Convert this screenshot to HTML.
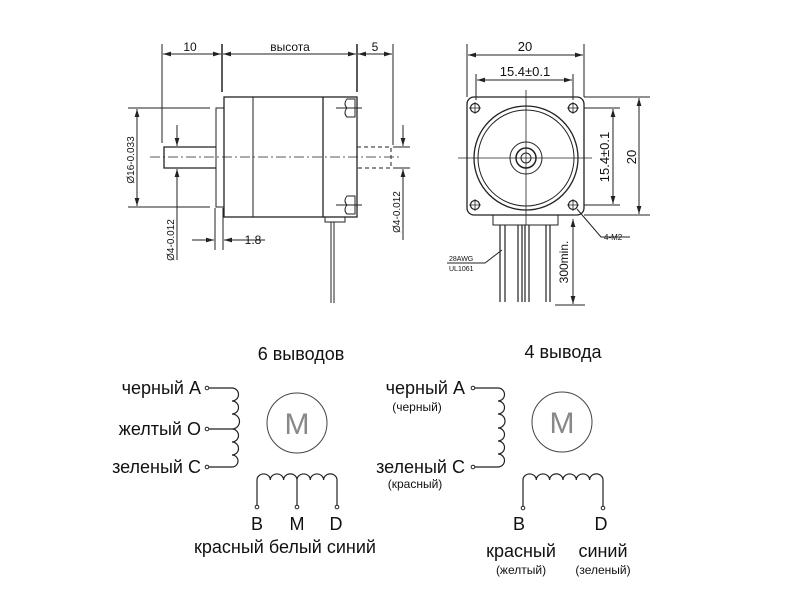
<!DOCTYPE html>
<html><head><meta charset="utf-8"><style>
body{margin:0;background:#fff}
svg{display:block}
text{font-family:"Liberation Sans","DejaVu Sans",sans-serif;fill:#111}
</style></head><body>
<svg width="800" height="600" viewBox="0 0 800 600" xmlns="http://www.w3.org/2000/svg">
<defs>
<marker id="a" viewBox="0 0 10 6" refX="10" refY="3" markerWidth="8" markerHeight="5" orient="auto-start-reverse"><path d="M0,0L10,3L0,6z" fill="#222"/></marker>
</defs>
<g stroke="#222" fill="none" stroke-width="1">
<line x1="162" y1="44" x2="162" y2="143"/>
<line x1="222" y1="44" x2="222" y2="92" stroke-width="1.5"/>
<line x1="357" y1="44" x2="357" y2="92" stroke-width="1.5"/>
<line x1="393" y1="44" x2="393" y2="145"/>
<line x1="163" y1="54" x2="221" y2="54" marker-start="url(#a)" marker-end="url(#a)"/>
<line x1="223" y1="54" x2="356" y2="54" marker-start="url(#a)" marker-end="url(#a)"/>
<line x1="358" y1="54" x2="392" y2="54" marker-start="url(#a)" marker-end="url(#a)"/>
<rect x="224" y="97" width="133" height="120" stroke-width="1.3"/>
<line x1="253" y1="97" x2="253" y2="217"/>
<line x1="323" y1="97" x2="323" y2="217" stroke-width="1.3"/>
<rect x="216" y="108" width="8" height="99"/>
<path d="M216,147 H164 V168 H216" stroke-width="1.3"/>
<path d="M357,147 H391 V168 H357" stroke-dasharray="4,3"/>
<line x1="150" y1="157" x2="400" y2="157" stroke-dasharray="10,3,2,3" stroke-width="0.8"/>
<line x1="128" y1="108" x2="210" y2="108"/><line x1="128" y1="207" x2="210" y2="207"/>
<line x1="137" y1="109" x2="137" y2="206" marker-start="url(#a)" marker-end="url(#a)"/>
<line x1="177" y1="125" x2="177" y2="146" marker-end="url(#a)"/>
<line x1="177" y1="260" x2="177" y2="169" marker-end="url(#a)"/>
<line x1="215" y1="208" x2="215" y2="250"/><line x1="223" y1="208" x2="223" y2="250"/>
<line x1="192" y1="240" x2="214" y2="240" marker-end="url(#a)"/>
<line x1="265" y1="240" x2="224" y2="240" marker-end="url(#a)"/>
<line x1="393" y1="147" x2="410" y2="147"/><line x1="393" y1="168" x2="410" y2="168"/>
<line x1="403" y1="125" x2="403" y2="146" marker-end="url(#a)"/>
<line x1="403" y1="240" x2="403" y2="169" marker-end="url(#a)"/>
<path d="M347,99 h8 v18 h-8 q-4,-4 0,-9 q-4,-4 0,-9z"/><line x1="336" y1="108" x2="362" y2="108"/>
<path d="M347,196 h8 v18 h-8 q-4,-4 0,-9 q-4,-4 0,-9z"/><line x1="336" y1="205" x2="362" y2="205"/>
<rect x="325" y="217" width="20" height="5"/>
<line x1="331" y1="222" x2="331" y2="303"/><line x1="334" y1="222" x2="334" y2="303"/>
<line x1="467" y1="44" x2="467" y2="97"/><line x1="584" y1="44" x2="584" y2="97"/>
<line x1="468" y1="55" x2="583" y2="55" marker-start="url(#a)" marker-end="url(#a)"/>
<line x1="476" y1="74" x2="476" y2="100"/><line x1="573" y1="74" x2="573" y2="100"/>
<line x1="477" y1="80" x2="572" y2="80" marker-start="url(#a)" marker-end="url(#a)"/>
<rect x="467" y="97" width="117" height="118" rx="7" stroke-width="1.3"/>
<circle cx="526" cy="158" r="52" stroke-width="1.3"/>
<circle cx="526" cy="158" r="48"/>
<circle cx="526" cy="158" r="16"/><circle cx="526" cy="158" r="10" stroke-width="1.5"/><circle cx="526" cy="158" r="5"/>
<line x1="526" y1="90" x2="526" y2="225" stroke-width="0.8"/><line x1="458" y1="158" x2="592" y2="158" stroke-width="0.8"/>
<g stroke-width="1.2">
<circle cx="475" cy="108" r="4.5"/><circle cx="573" cy="108" r="4.5"/><circle cx="475" cy="205" r="4.5"/><circle cx="573" cy="205" r="4.5"/>
</g>
<path d="M469,108h12M475,102v12M567,108h12M573,102v12M469,205h12M475,199v12M567,205h12M573,199v12" stroke-width="0.8"/>
<line x1="584" y1="97" x2="650" y2="97"/><line x1="584" y1="215" x2="650" y2="215"/>
<line x1="584" y1="108" x2="620" y2="108"/><line x1="584" y1="205" x2="620" y2="205"/>
<line x1="613" y1="109" x2="613" y2="204" marker-start="url(#a)" marker-end="url(#a)"/>
<line x1="639" y1="98" x2="639" y2="214" marker-start="url(#a)" marker-end="url(#a)"/>
<rect x="493" y="215" width="65" height="10"/>
<g stroke-width="1.2">
<path d="M500,225V302M505,225V302M518,225V302M522,225V302M525,225V302M529,225V302M546,225V302M550,225V302"/>
</g>
<line x1="573" y1="219" x2="573" y2="304" marker-start="url(#a)" marker-end="url(#a)"/>
<line x1="555" y1="305" x2="585" y2="305"/>
<path d="M577,209 L601,237 H630"/>
<path d="M447,263 H485 L502,250"/>
<!-- 6 leads -->
<circle cx="207" cy="388" r="1.8"/><circle cx="207" cy="429" r="1.8"/><circle cx="207" cy="467" r="1.8"/>
<path d="M209,388H232 a5,5 0 0 1 0,13 a5,5 0 0 1 0,13 a5,5 0 0 1 0,15 a5,5 0 0 1 0,13 a5,5 0 0 1 0,13 a5,5 0 0 1 0,12 H209" stroke-width="1.2"/>
<line x1="209" y1="429" x2="232" y2="429" stroke-width="1.2"/>
<circle cx="297" cy="423" r="30" stroke="#444"/>
<path d="M257,505V480 a6.6,6 0 0 1 13.3,0 a6.6,6 0 0 1 13.3,0 a6.6,6 0 0 1 13.4,0 a6.6,6 0 0 1 13.3,0 a6.6,6 0 0 1 13.3,0 a6.6,6 0 0 1 13.4,0 V505" stroke-width="1.2"/>
<line x1="297" y1="480" x2="297" y2="505" stroke-width="1.2"/>
<circle cx="257" cy="507" r="1.8"/><circle cx="297" cy="507" r="1.8"/><circle cx="337" cy="507" r="1.8"/>
<!-- 4 leads -->
<circle cx="473" cy="388" r="1.8"/><circle cx="473" cy="467" r="1.8"/>
<path d="M475,388H498 a5,5 0 0 1 0,13 a5,5 0 0 1 0,13 a5,5 0 0 1 0,14 a5,5 0 0 1 0,13 a5,5 0 0 1 0,13 a5,5 0 0 1 0,13 H475" stroke-width="1.2"/>
<circle cx="562" cy="422" r="30" stroke="#444"/>
<path d="M523,506V480 a6.6,6 0 0 1 13.3,0 a6.6,6 0 0 1 13.3,0 a6.6,6 0 0 1 13.4,0 a6.6,6 0 0 1 13.3,0 a6.6,6 0 0 1 13.3,0 a6.6,6 0 0 1 13.4,0 V506" stroke-width="1.2"/>
<circle cx="523" cy="508" r="1.8"/><circle cx="603" cy="508" r="1.8"/>
</g>
<g font-size="11">
<text x="190" y="51" text-anchor="middle" font-size="12">10</text>
<text x="290" y="51" text-anchor="middle" font-size="12">высота</text>
<text x="375" y="51" text-anchor="middle" font-size="12">5</text>
<text x="253" y="244" text-anchor="middle" font-size="12">1.8</text>
<text x="525" y="51" text-anchor="middle" font-size="13">20</text>
<text x="525" y="76" text-anchor="middle" font-size="13">15.4±0.1</text>
<text transform="translate(609,157) rotate(-90)" text-anchor="middle" font-size="13">15.4±0.1</text>
<text transform="translate(636,157) rotate(-90)" text-anchor="middle" font-size="13">20</text>
<text transform="translate(568,262) rotate(-90)" text-anchor="middle" font-size="12">300min.</text>
<text transform="translate(134,160) rotate(-90)" text-anchor="middle" font-size="10">Ø16-0.033</text>
<text transform="translate(174,240) rotate(-90)" text-anchor="middle" font-size="10">Ø4-0.012</text>
<text transform="translate(400,212) rotate(-90)" text-anchor="middle" font-size="10">Ø4-0.012</text>
<text x="604" y="240" font-size="8">4-M2</text>
<text x="449" y="261" font-size="7">28AWG</text>
<text x="449" y="271" font-size="7">UL1061</text>
</g>
<g font-size="18">
<text x="301" y="360" text-anchor="middle">6 выводов</text>
<text x="201" y="394" text-anchor="end">черный A</text>
<text x="201" y="435" text-anchor="end">желтый O</text>
<text x="201" y="473" text-anchor="end">зеленый C</text>
<text x="257" y="530" text-anchor="middle">B</text>
<text x="297" y="530" text-anchor="middle">M</text>
<text x="336" y="530" text-anchor="middle">D</text>
<text x="285" y="553" text-anchor="middle">красный белый синий</text>
<text x="563" y="358" text-anchor="middle">4 вывода</text>
<text x="465" y="394" text-anchor="end">черный A</text>
<text x="465" y="473" text-anchor="end">зеленый C</text>
<text x="519" y="530" text-anchor="middle">B</text>
<text x="601" y="530" text-anchor="middle">D</text>
<text x="521" y="557" text-anchor="middle">красный</text>
<text x="603" y="557" text-anchor="middle">синий</text>
</g>
<g font-size="12">
<text x="417" y="411" text-anchor="middle">(черный)</text>
<text x="415" y="488" text-anchor="middle">(красный)</text>
<text x="521" y="574" text-anchor="middle">(желтый)</text>
<text x="603" y="574" text-anchor="middle">(зеленый)</text>
</g>
<text x="297" y="434" text-anchor="middle" font-size="30" style="fill:#888">M</text>
<text x="562" y="433" text-anchor="middle" font-size="30" style="fill:#888">M</text>
</svg>
</body></html>
